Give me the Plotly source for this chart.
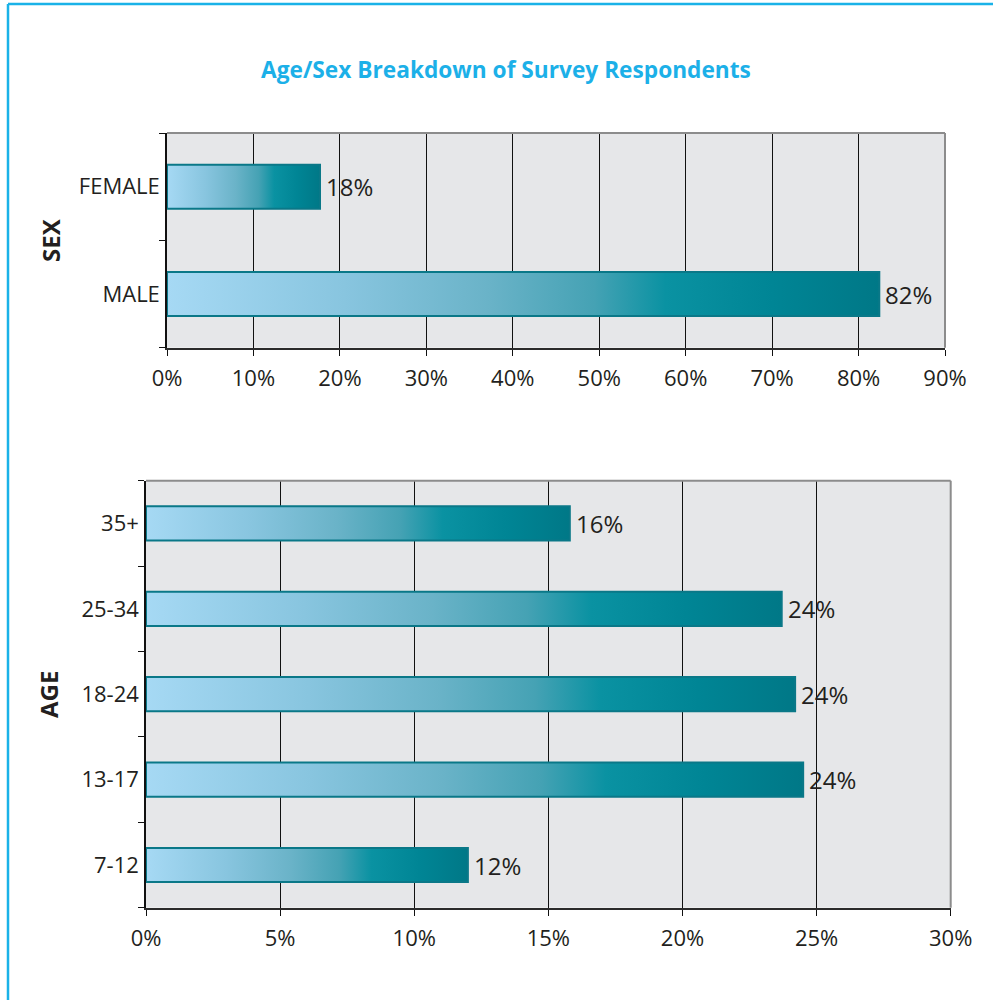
import plotly.graph_objects as go

# ---- data ----
sex_categories = ["FEMALE", "MALE"]
sex_values = [17.7, 82.4]
sex_labels = ["18%", "82%"]

age_categories = ["35+", "25-34", "18-24", "13-17", "7-12"]
age_values = [15.8, 23.7, 24.2, 24.5, 12.0]
age_labels = ["16%", "24%", "24%", "24%", "12%"]

title_text = "Age/Sex Breakdown of Survey Respondents"

# ---- style ----
W, H = 993, 1000
TXT = "#231f20"
FONT = "Open Sans"
BAR_LINE = "#0a7888"
GRADIENT = [[0, "#a6d9f4"], [0.25, "#88c5df"], [0.45, "#6ab3c8"],
            [0.6, "#45a2b4"], [0.7, "#0a92a2"], [0.85, "#008595"],
            [1, "#007887"]]
PLOT_BG = "#e6e7e9"

fig = go.Figure()


def add_bars(cats, vals, labels, xa, ya, bar_w):
    n = len(cats)
    h = bar_w / 2
    for i, (c, v, lab) in enumerate(zip(cats, vals, labels)):
        p = n - 1 - i
        fig.add_trace(go.Scatter(
            x=[0, v, v, 0, 0], y=[p - h, p - h, p + h, p + h, p - h],
            mode="lines", fill="toself",
            fillgradient=dict(type="horizontal", colorscale=GRADIENT),
            line=dict(color=BAR_LINE, width=2),
            xaxis=xa, yaxis=ya, showlegend=False, name=c,
            hoverinfo="skip"))
        fig.add_annotation(x=v, y=p, xref=xa, yref=ya, text=lab,
                           showarrow=False, xanchor="left", yanchor="middle",
                           xshift=4,
                           font=dict(size=24, color=TXT, family=FONT))


add_bars(sex_categories, sex_values, sex_labels, "x", "y", 0.41)
add_bars(age_categories, age_values, age_labels, "x2", "y2", 0.40)

xcommon = dict(showgrid=True, gridcolor="#111111", gridwidth=1,
               ticks="outside", ticklen=6, tickcolor="#111111", tickwidth=1,
               ticksuffix="%", showline=True, linecolor="#2b2b2b", linewidth=2,
               tickfont=dict(size=22, color=TXT, family=FONT),
               zeroline=False, ticklabelstandoff=4)
ycommon = dict(showgrid=False, zeroline=False, showline=True,
               linecolor="#111111", linewidth=1.5, ticks="",
               tickfont=dict(size=22, color=TXT, family=FONT),
               ticklabelstandoff=1)

n1, n2 = len(sex_categories), len(age_categories)

fig.update_layout(
    width=W, height=H,
    margin=dict(l=0, r=0, t=0, b=0, pad=0, autoexpand=False),
    paper_bgcolor="white", plot_bgcolor=PLOT_BG,
    font=dict(family=FONT, color=TXT),
    xaxis=dict(domain=[167 / W, 945 / W], anchor="y", range=[0, 90],
               tick0=0, dtick=10, **xcommon),
    yaxis=dict(domain=[1 - 347.7 / H, 1 - 133 / H], anchor="x",
               range=[-0.5, n1 - 0.5],
               tickvals=[n1 - 1 - i for i in range(n1)], ticktext=sex_categories,
               minor=dict(tickvals=[k - 0.5 for k in range(n1 + 1)], ticks="outside",
                          ticklen=6, tickcolor="#111111", tickwidth=1),
               **ycommon),
    xaxis2=dict(domain=[146 / W, 950.7 / W], anchor="y2", range=[0, 30],
                tick0=0, dtick=5, **xcommon),
    yaxis2=dict(domain=[1 - 907.7 / H, 1 - 480.7 / H], anchor="x2",
                range=[-0.5, n2 - 0.5],
                tickvals=[n2 - 1 - i for i in range(n2)], ticktext=age_categories,
                minor=dict(tickvals=[k - 0.5 for k in range(n2 + 1)], ticks="outside",
                           ticklen=6, tickcolor="#111111", tickwidth=1),
                **ycommon),
    title=dict(text=f"<b>{title_text}</b>", x=506 / W, y=1 - 70 / H,
               xanchor="center", yanchor="middle", xref="paper", yref="paper",
               font=dict(size=22.7, color="#1cb0e8", family=FONT)),
)

# plot-area top / right borders (gray)
for xr, yr in [("x domain", "y domain"), ("x2 domain", "y2 domain")]:
    fig.add_shape(type="line", xref=xr, yref=yr, x0=0, x1=1, y0=1, y1=1,
                  line=dict(color="#8c8c8c", width=2), layer="above")
    fig.add_shape(type="line", xref=xr, yref=yr, x0=1, x1=1, y0=0, y1=1,
                  line=dict(color="#8c8c8c", width=2), layer="above")

# outer frame (light blue, left and top)
fig.add_shape(type="line", xref="paper", yref="paper", x0=8 / W, x1=8 / W,
              y0=0, y1=1 - 4 / H, line=dict(color="#1ab2e8", width=2.5))
fig.add_shape(type="line", xref="paper", yref="paper", x0=8 / W, x1=1,
              y0=1 - 4 / H, y1=1 - 4 / H, line=dict(color="#1ab2e8", width=2.5))

# axis titles
fig.add_annotation(text="<b>SEX</b>", x=50 / W, y=1 - 240 / H, xref="paper",
                   yref="paper", textangle=-90, showarrow=False,
                   xanchor="center", yanchor="middle",
                   font=dict(size=24, color=TXT, family=FONT))
fig.add_annotation(text="<b>AGE</b>", x=48 / W, y=1 - 695 / H, xref="paper",
                   yref="paper", textangle=-90, showarrow=False,
                   xanchor="center", yanchor="middle",
                   font=dict(size=24, color=TXT, family=FONT))

fig.write_html("out.html")
